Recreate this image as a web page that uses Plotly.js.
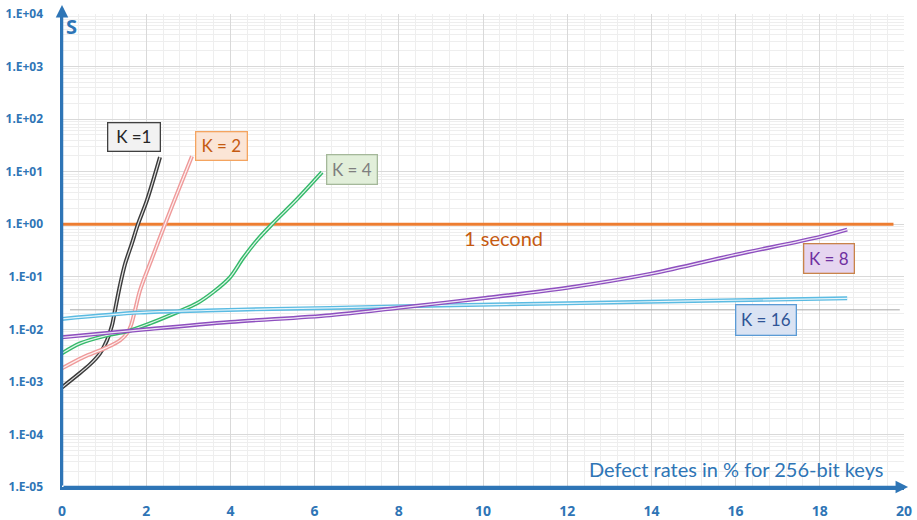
<!DOCTYPE html>
<html>
<head>
<meta charset="utf-8">
<script src="https://cdn.plot.ly/plotly-3.0.1.min.js"></script>
<style>
  html, body { margin: 0; padding: 0; background: #ffffff; }
  #chart { width: 917px; height: 520px; }
</style>
</head>
<body>
<div id="chart"></div>
<script>
// Solve time (seconds) versus defect rate (%) for 256-bit keys, per K value
const k1X = [0, 0.356, 0.665, 0.903, 1.069, 1.188, 1.259, 1.378, 1.496, 1.663, 1.805, 2.019, 2.328];
const k1Y = [7.85e-4, 1.33e-3, 2.15e-3, 3.49e-3, 6.17e-3, 0.0119, 0.023, 0.0689, 0.173, 0.435, 1.0, 2.87, 18.9];

const k2X = [0, 0.499, 1.069, 1.378, 1.544, 1.639, 1.734, 1.853, 2.138, 2.447, 2.755, 3.088];
const k2Y = [1.81e-3, 2.93e-3, 4.54e-3, 6.17e-3, 8.4e-3, 0.0119, 0.023, 0.0553, 0.225, 1.0, 4.25, 19.7];

const k4X = [0, 0.428, 1.069, 1.544, 2.090, 2.732, 3.207, 3.587, 3.990, 4.299, 4.632, 5.012, 5.582, 6.176];
const k4Y = [3.49e-3, 5.41e-3, 7.69e-3, 9.16e-3, 0.013, 0.0211, 0.0313, 0.0507, 0.0977, 0.225, 0.495, 1.045, 2.99, 9.77];

const k8X = [0, 2, 4, 6.37, 8, 10, 12, 14, 16, 18, 18.65];
const k8Y = [7.05e-3, 0.0100, 0.0138, 0.0185, 0.0257, 0.0389, 0.0617, 0.115, 0.263, 0.575, 0.79];

const k16X = [0, 1.85, 3.44, 5.01, 6.37, 9.0, 12.0, 15.0, 18.65];
const k16Y = [0.0158, 0.0208, 0.0228, 0.0245, 0.0256, 0.0285, 0.0313, 0.0347, 0.0389];

// one-second threshold and the thin grey reference level
const oneSecondX = [0, 19.75];
const oneSecondY = [1, 1];
const refX = [0.19, 19.9];
const refY = [0.0235, 0.0235];

const yTickVals = [1e-5, 1e-4, 1e-3, 1e-2, 1e-1, 1, 10, 100, 1000, 10000];
const yTickText = ['1.E-05', '1.E-04', '1.E-03', '1.E-02', '1.E-01', '1.E+00', '1.E+01', '1.E+02', '1.E+03', '1.E+04'];
const xTickVals = [0, 2, 4, 6, 8, 10, 12, 14, 16, 18, 20];

const series = [
  { name: 'K =1', x: k1X, y: k1Y, color: '#3a3a3a' },
  { name: 'K = 2', x: k2X, y: k2Y, color: '#ef9a9a' },
  { name: 'K = 4', x: k4X, y: k4Y, color: '#34b96a' },
  { name: 'K = 16', x: k16X, y: k16Y, color: '#5bbbe2' },
  { name: 'K = 8', x: k8X, y: k8Y, color: '#8e4fbf' }
];

const BLUE = '#2e75b6';
const FONT = 'Lato, "Open Sans", sans-serif';
const BOLD_FONT = '"Noto Sans", "Open Sans", "Liberation Sans", sans-serif';

const traces = [];
traces.push({
  x: refX, y: refY, mode: 'lines', hoverinfo: 'skip',
  line: { color: '#a6a6a6', width: 1 }
});
traces.push({
  x: oneSecondX, y: oneSecondY, mode: 'lines', hoverinfo: 'skip',
  line: { color: '#ed7d31', width: 3 }
});
// each curve is a double line: a coloured stroke with a thin white core
series.forEach(s => {
  traces.push({
    x: s.x, y: s.y, mode: 'lines', name: s.name,
    line: { color: s.color, width: 4, shape: 'spline', smoothing: 0.9 }
  });
  traces.push({
    x: s.x, y: s.y, mode: 'lines', hoverinfo: 'skip',
    line: { color: 'rgba(255,255,255,0.85)', width: 1.2, shape: 'spline', smoothing: 0.9 }
  });
});

// log minor grid (2..9 in every decade)
const yMinor = [];
for (let e = -5; e < 4; e++) {
  for (let m = 2; m <= 9; m++) yMinor.push(m * Math.pow(10, e));
}

function label(text, x, ly, w, h, bg, border, color) {
  return {
    text: text, x: x, y: ly, xref: 'x', yref: 'y', showarrow: false,
    xanchor: 'center', yanchor: 'middle',
    width: w - 2, height: h - 2, bgcolor: bg, bordercolor: border,
    borderwidth: 1.3, borderpad: 0,
    font: { family: FONT, size: 17, color: color }
  };
}

const annotations = [
  label('K =1', 1.70, 1.667, 53, 29, '#f2f2f2', '#404040', '#262626'),
  label('K = 2', 3.78, 1.495, 52, 29, '#fbe5d6', '#f4a460', '#c55a11'),
  label('K = 4', 6.88, 1.048, 51, 30, '#e2efda', '#a5b89a', '#7f7f7f'),
  label('K = 8', 18.23, -0.648, 51, 30, '#e6d5f0', '#c9834a', '#7030a0'),
  label('K = 16', 16.73, -1.819, 61, 31, '#dae3f3', '#5b9bd5', '#2f5597'),
  {
    text: '1 second', x: 10.49, y: -0.267, xref: 'x', yref: 'y', showarrow: false,
    xanchor: 'center', yanchor: 'middle',
    font: { family: FONT, size: 20, color: '#c55a11' }
  },
  {
    text: 'Defect rates in % for 256-bit keys', x: 0.80, y: 0.038,
    xref: 'paper', yref: 'paper', showarrow: false,
    xanchor: 'center', yanchor: 'middle',
    font: { family: FONT, size: 20, color: BLUE }
  },
  {
    text: '<b>S</b>', x: 0.0107, y: 0.974, xref: 'paper', yref: 'paper',
    xanchor: 'center', yanchor: 'middle', showarrow: false,
    font: { family: BOLD_FONT, size: 20, color: BLUE }
  },
  // axis arrowheads
  {
    text: '', x: 0, y: 1.019, xref: 'paper', yref: 'paper',
    ax: 0, ay: 482, showarrow: true, arrowhead: 2, arrowsize: 1,
    arrowwidth: 2.5, arrowcolor: BLUE
  },
  {
    text: '', x: 1.0048, y: 0, xref: 'paper', yref: 'paper',
    ax: -846, ay: 0, showarrow: true, arrowhead: 2, arrowsize: 1,
    arrowwidth: 2.5, arrowcolor: BLUE
  }
];

const layout = {
  width: 917, height: 520,
  margin: { l: 62, r: 13, t: 14, b: 33 },
  paper_bgcolor: '#ffffff', plot_bgcolor: '#ffffff',
  showlegend: false,
  xaxis: {
    range: [0, 20], tickvals: xTickVals, ticktext: xTickVals.map(v => '<b>' + v + '</b>'),
    showgrid: true, gridcolor: '#d9d9d9', gridwidth: 1,
    minor: { dtick: 0.4, showgrid: true, gridcolor: '#eeeeee', gridwidth: 1 },
    zeroline: false, showline: true, linecolor: BLUE, linewidth: 2.5,
    ticks: 'outside', ticklen: 10, tickcolor: 'rgba(0,0,0,0)',
    tickfont: { family: BOLD_FONT, size: 14, color: BLUE }
  },
  yaxis: {
    type: 'log', range: [-5, 4], tickvals: yTickVals, ticktext: yTickText.map(t => '<b>' + t + '</b>'),
    showgrid: true, gridcolor: '#d9d9d9', gridwidth: 1,
    minor: { tickvals: yMinor, showgrid: true, gridcolor: '#eeeeee', gridwidth: 1 },
    zeroline: false, showline: true, linecolor: BLUE, linewidth: 2.5,
    ticks: 'outside', ticklen: 14, tickcolor: 'rgba(0,0,0,0)',
    tickfont: { family: BOLD_FONT, size: 12, color: BLUE }
  },
  annotations: annotations
};

Plotly.newPlot('chart', traces, layout, { displayModeBar: false, staticPlot: true });
</script>
</body>
</html>
